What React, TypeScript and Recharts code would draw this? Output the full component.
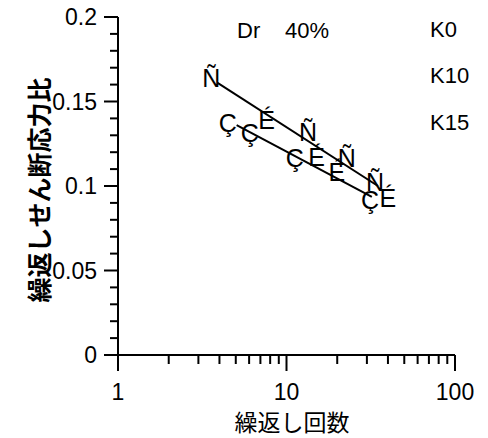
import { ScatterChart, Scatter, XAxis, YAxis } from 'recharts';

// marker glyph positions
const K0 = [
  { x: 3.58, y: 0.1637 },
  { x: 13.4, y: 0.132 },
  { x: 22.8, y: 0.1166 },
  { x: 33.5, y: 0.1024 },
];
const K10 = [
  { x: 7.63, y: 0.139 },
  { x: 15.1, y: 0.1172 },
  { x: 19.9, y: 0.1083 },
  { x: 40.0, y: 0.0929 },
];
const K15 = [
  { x: 4.48, y: 0.1373 },
  { x: 6.05, y: 0.1314 },
  { x: 11.2, y: 0.1166 },
  { x: 31.3, y: 0.0917 },
];
// fitted lines (end points)
const FIT_K0 = [
  { x: 3.9, y: 0.161 },
  { x: 34.9, y: 0.1 },
];
const FIT_K15 = [
  { x: 5.06, y: 0.136 },
  { x: 32.1, y: 0.0935 },
];

const X_TICKS = [1, 2, 3, 4, 5, 6, 7, 8, 9, 10, 20, 30, 40, 50, 60, 70, 80, 90, 100];
const X_LABELS = [1, 10, 100];
const Y_TICKS = [
  0, 0.01, 0.02, 0.03, 0.04, 0.05, 0.06, 0.07, 0.08, 0.09, 0.1,
  0.11, 0.12, 0.13, 0.14, 0.15, 0.16, 0.17, 0.18, 0.19, 0.2,
];
const Y_LABELS = [0, 0.05, 0.1, 0.15, 0.2];

const FONT = 'Arial, "Liberation Sans", sans-serif';
const CJK = '"Noto Sans CJK JP", sans-serif';

function XTick(props: any) {
  const { x, y, payload } = props;
  const major = X_LABELS.includes(payload.value);
  return (
    <g>
      <line x1={x} x2={x} y1={y} y2={y + (major ? 16 : 9)} stroke="#000" strokeWidth={2} />
      {major && (
        <text x={x} y={y + 45} textAnchor="middle" fontSize={23} fontFamily={FONT} fill="#000">
          {payload.value}
        </text>
      )}
    </g>
  );
}

function YTick(props: any) {
  const { x, y, payload } = props;
  const major = Y_LABELS.some((v) => Math.abs(v - payload.value) < 1e-9);
  return (
    <g>
      <line x1={x - (major ? 14 : 8)} x2={x} y1={y} y2={y} stroke="#000" strokeWidth={2} />
      {major && (
        <text x={x - 21} y={y + 8} textAnchor="end" fontSize={23} fontFamily={FONT} fill="#000">
          {payload.value}
        </text>
      )}
    </g>
  );
}

const glyph = (ch: string) => (props: any) => {
  const { cx, cy } = props;
  return (
    <text x={cx} y={cy + 9} textAnchor="middle" fontSize={25} fontFamily={FONT} fill="#000">
      {ch}
    </text>
  );
};

const noMark = () => <g />;

export default function App() {
  return (
    <div style={{ position: 'absolute', left: 0, top: 0, width: 488, height: 438, background: '#fff' }}>
      <ScatterChart width={488} height={438} margin={{ top: 17, right: 33, left: 0, bottom: 0 }}>
        <XAxis
          type="number"
          dataKey="x"
          scale="log"
          domain={[1, 100]}
          allowDataOverflow
          ticks={X_TICKS}
          interval={0}
          tickSize={0}
          tickMargin={0}
          tickLine={false}
          axisLine={{ stroke: '#000', strokeWidth: 2 }}
          tick={<XTick />}
          height={83}
        />
        <YAxis
          type="number"
          dataKey="y"
          domain={[0, 0.2]}
          allowDataOverflow
          ticks={Y_TICKS}
          interval={0}
          tickSize={0}
          tickMargin={0}
          tickLine={false}
          axisLine={{ stroke: '#000', strokeWidth: 2 }}
          tick={<YTick />}
          width={118}
        />
        <Scatter data={FIT_K0} line={{ stroke: '#000', strokeWidth: 2 }} shape={noMark} isAnimationActive={false} />
        <Scatter data={FIT_K15} line={{ stroke: '#000', strokeWidth: 2 }} shape={noMark} isAnimationActive={false} />
        <Scatter data={K0} shape={glyph('Ñ')} isAnimationActive={false} />
        <Scatter data={K10} shape={glyph('É')} isAnimationActive={false} />
        <Scatter data={K15} shape={glyph('Ç')} isAnimationActive={false} />
      </ScatterChart>
      <svg
        width={488}
        height={438}
        style={{ position: 'absolute', left: 0, top: 0, pointerEvents: 'none' }}
      >
        <g fontFamily={FONT} fontSize={22} fill="#000">
          <text x={237} y={38}>Dr</text>
          <text x={285} y={38}>40%</text>
          <text x={430} y={37}>K0</text>
          <text x={430} y={83}>K10</text>
          <text x={430} y={130}>K15</text>
        </g>
        <text
          x={292}
          y={421}
          textAnchor="middle"
          dominantBaseline="central"
          fontSize={23}
          fontFamily={CJK}
          fill="#000"
        >
          繰返し回数
        </text>
        <text
          x={38}
          y={190}
          textAnchor="middle"
          dominantBaseline="central"
          fontSize={25}
          fontFamily={CJK}
          fontWeight={700}
          fill="#000"
          transform="rotate(-90 38 190)"
        >
          繰返しせん断応力比
        </text>
      </svg>
    </div>
  );
}
